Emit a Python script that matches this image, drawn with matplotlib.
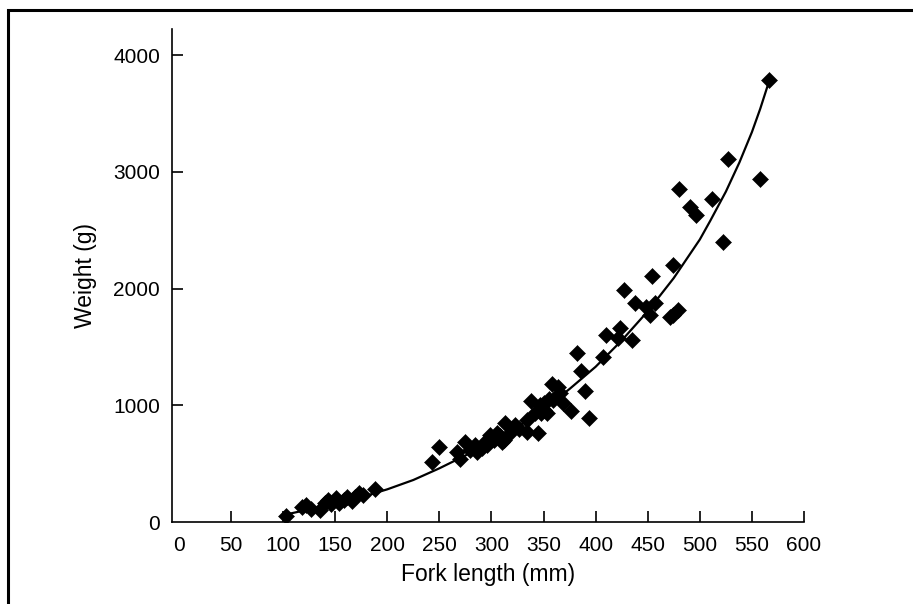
import numpy as np
import matplotlib
matplotlib.use("Agg")
import matplotlib.pyplot as plt
from matplotlib.patches import Rectangle

plt.rcParams["font.family"] = ["Liberation Sans", "DejaVu Sans"]

# fork length (mm) and weight (g) of each fish
length_mm = [103, 118, 122, 127, 135, 140, 143, 146, 151, 154, 158, 161, 166, 169, 173, 177, 188,
             243, 250, 267, 270, 275, 279, 284, 286, 291, 294, 296, 299, 302, 303, 305, 308, 310,
             312, 313, 318, 323, 326, 334, 334, 338, 342, 345, 347, 348, 350, 350, 353, 355, 358,
             359, 364, 366, 369, 376,
             382, 386, 390, 394, 407, 410, 421, 423, 427, 435, 438, 448, 452, 454, 457, 471, 474,
             474, 479, 480, 491, 496, 512, 522, 527, 558, 566]
weight_g = [50, 131, 146, 115, 100, 160, 188, 150, 203, 165, 190, 217, 180, 217, 246, 231, 285,
            516, 640, 602, 540, 688, 617, 660, 600, 631, 688, 660, 745, 702, 720, 760, 740, 688,
            700, 845, 760, 831, 800, 773, 874, 1039, 931, 760, 1000, 930, 1017, 960, 931, 1050, 1182,
            1045, 1160, 1102, 1017, 950,
            1450, 1295, 1120, 890, 1410, 1600, 1580, 1659, 1990, 1560, 1879, 1839, 1773, 2107, 1879,
            1760, 2205, 1775, 1815, 2850, 2700, 2630, 2770, 2400, 3110, 2935, 3790]

# trend line as drawn on the chart
trend_mm = [103, 125, 150, 175, 200, 225, 250, 275, 300, 325, 350, 375, 400, 425, 450, 475,
            500, 510, 525, 538, 550, 558, 567]
trend_g = [65, 108, 155, 212, 280, 360, 460, 570, 690, 815, 965, 1140, 1330, 1555, 1805, 2090,
           2420, 2580, 2830, 3080, 3340, 3540, 3790]

x_ticks = list(range(0, 601, 50))
y_ticks = [0, 1000, 2000, 3000, 4000]

fig = plt.figure(figsize=(9.13, 6.04), dpi=100)
ax = fig.add_axes([172 / 913, 1 - 522 / 604, (804 - 172) / 913, (522 - 29) / 604])

# outer border of the chart area (runs off the right and bottom edges)
fig.patches.append(Rectangle((8 / 913, -0.2), 1.2, 1 - 10 / 604 + 0.2, transform=fig.transFigure,
                             fill=False, edgecolor="black", linewidth=2.2))

ax.plot(trend_mm, trend_g, color="black", linewidth=1.6, zorder=2,
        solid_joinstyle="round")
ax.plot(length_mm, weight_g, linestyle="none", marker="D", markersize=7.8,
        color="black", markeredgewidth=0.4, zorder=3)

ax.set_xlim(-6.7, 600)
ax.set_ylim(0, 4223)
ax.set_xticks(x_ticks)
ax.set_yticks(y_ticks)
ax.spines["top"].set_visible(False)
ax.spines["right"].set_visible(False)
for side in ("left", "bottom"):
    ax.spines[side].set_linewidth(1.2)
ax.tick_params(axis="both", direction="in", length=8, width=1.2, labelsize=15, colors="black")
ax.tick_params(axis="x", pad=10)
ax.tick_params(axis="y", pad=8.5)
ax.xaxis.get_major_ticks()[0].tick1line.set_visible(False)
ax.yaxis.get_major_ticks()[0].tick1line.set_visible(False)

ax.set_xlabel("Fork length (mm)", fontsize=16.5, labelpad=6)
ax.set_ylabel("Weight (g)", fontsize=16.5, labelpad=12)

fig.savefig("out.png", dpi=100)
